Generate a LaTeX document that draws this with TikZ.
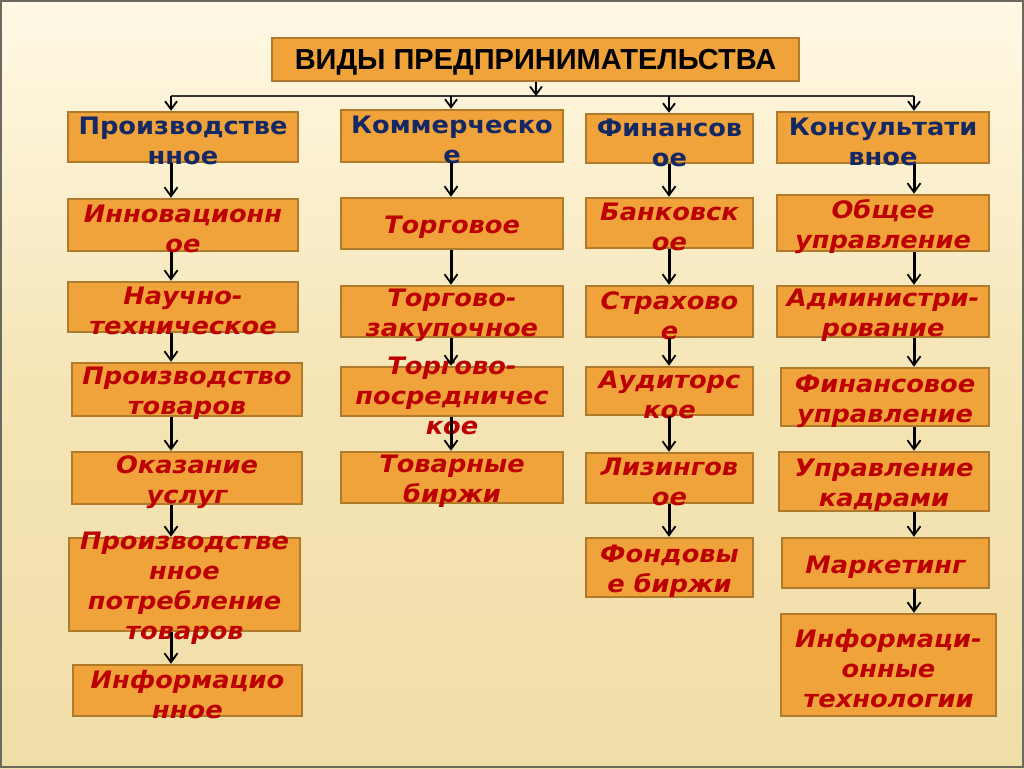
\documentclass[tikz,border=0pt]{standalone}
\usepackage{fontspec}
\setmainfont{DejaVu Sans}
\newfontfamily\boxfont[FakeStretch=1.07]{DejaVu Sans}
\newfontfamily\titlefont{Liberation Sans}
\usetikzlibrary{arrows.meta}
\definecolor{bgtop}{HTML}{FFF8E4}
\definecolor{bgmid}{HTML}{F5E5B6}
\definecolor{bgbot}{HTML}{F0DEA8}
\definecolor{boxfill}{HTML}{F0A33A}
\definecolor{boxedge}{HTML}{B07A2C}
\definecolor{navy}{HTML}{142864}
\definecolor{itemred}{HTML}{BC0000}
\definecolor{frame}{HTML}{6A6A60}
% #1 kind (cat/item), #2 name, #3 centre, #4 width, #5 height, #6 text
\newcommand\mkbox[6]{%
  \node[#1box, minimum width=#4, minimum height=#5] (#2) at (#3) {};
  \node[#1txt] (#2t) at (#2.center) {#6};}
\begin{document}
\begin{tikzpicture}[x=1pt,y=-1pt,
  box/.style={draw=boxedge, line width=2.5pt, fill=boxfill, inner sep=0pt},
  catbox/.style={box},
  itembox/.style={box},
  txt/.style={inner sep=0pt, align=center, yshift=-4pt},
  cattxt/.style={txt, font=\boxfont\bfseries\fontsize{24}{30}\selectfont, text=navy},
  itemtxt/.style={txt, font=\boxfont\bfseries\itshape\fontsize{24}{30}\selectfont, text=itemred},
  titlebox/.style={box, text depth=0pt, font=\titlefont\bfseries\fontsize{29}{34}\selectfont, text=black},
  arr/.style={line width=3pt, -{Straight Barb[length=9pt,width=13pt,line width=1.8pt]}},
  arrthin/.style={line width=2pt, -{Straight Barb[length=8pt,width=12pt,line width=1.8pt]}},
  hline/.style={line width=2pt, draw=black!80}]
\useasboundingbox (0,0) rectangle (1024,768);
\shade[top color=bgtop, bottom color=bgbot, middle color=bgmid] (0,0) rectangle (1024,768);
\draw[frame, line width=2pt] (1,1) rectangle (1023,767);

% title
\node[titlebox, minimum width=527pt, minimum height=43pt] (title) at (535.5,59.5) {ВИДЫ ПРЕДПРИНИМАТЕЛЬСТВА};

% column x positions
\coordinate (x1) at (171,96);
\coordinate (x2) at (451,96);
\coordinate (x3) at (669,96);
\coordinate (x4) at (914,96);
\coordinate (xt) at (536,96);

% column 1
\mkbox{cat}{p0}{183,137}{230pt}{50pt}{Производстве\\нное}
\mkbox{item}{p1}{183,225}{230pt}{52pt}{Инновационн\\ое}
\mkbox{item}{p2}{183,307}{230pt}{50pt}{Научно-\\техническое}
\mkbox{item}{p3}{187,389.5}{230pt}{53pt}{Производство\\товаров}
\mkbox{item}{p4}{187,478}{230pt}{52pt}{Оказание\\услуг}
\mkbox{item}{p5}{184.5,584.5}{231pt}{93pt}{Производстве\\нное\\потребление\\товаров}
\mkbox{item}{p6}{187.5,690.5}{229pt}{51pt}{Информацио\\нное}

% column 2
\mkbox{cat}{k0}{452,136}{222pt}{52pt}{Коммерческо\\е}
\mkbox{item}{k1}{452,223.5}{222pt}{51pt}{Торговое}
\mkbox{item}{k2}{452,311.5}{222pt}{51pt}{Торгово-\\закупочное}
\mkbox{item}{k3}{452,391.5}{222pt}{49pt}{Торгово-\\посредничес\\кое}
\mkbox{item}{k4}{452,477.5}{222pt}{51pt}{Товарные\\биржи}

% column 3
\mkbox{cat}{f0}{669.5,138.5}{167pt}{49pt}{Финансов\\ое}
\mkbox{item}{f1}{669.5,223}{167pt}{50pt}{Банковск\\ое}
\mkbox{item}{f2}{669.5,311.5}{167pt}{51pt}{Страхово\\е}
\mkbox{item}{f3}{669.5,391}{167pt}{48pt}{Аудиторс\\кое}
\mkbox{item}{f4}{669.5,478}{167pt}{50pt}{Лизингов\\ое}
\mkbox{item}{f5}{669.5,567.5}{167pt}{59pt}{Фондовы\\е биржи}

% column 4
\mkbox{cat}{c0}{883,137.5}{212pt}{51pt}{Консультати\\вное}
\mkbox{item}{c1}{883,223}{212pt}{56pt}{Общее\\управление}
\mkbox{item}{c2}{883,311.5}{212pt}{51pt}{Администри-\\рование}
\mkbox{item}{c3}{885,397}{208pt}{58pt}{Финансовое\\управление}
\mkbox{item}{c4}{884,481.5}{210pt}{59pt}{Управление\\кадрами}
\mkbox{item}{c5}{885.5,563}{207pt}{50pt}{Маркетинг}
\mkbox{item}{c6}{888.5,665}{215pt}{102pt}{Информаци-\\онные\\технологии}

% top connectors
\draw[hline] (x1) -- (x4);
\draw[arrthin] (title.south -| xt) -- (xt);
\draw[arrthin] (x1) -- (p0.north -| x1);
\draw[arrthin] (x2) -- (k0.north -| x2);
\draw[arrthin] (x3) -- (f0.north -| x3);
\draw[arrthin] (x4) -- (c0.north -| x4);

% column arrows
\draw[arr] (p0.south -| x1) -- (p1.north -| x1);
\draw[arr] (p1.south -| x1) -- (p2.north -| x1);
\draw[arr] (p2.south -| x1) -- (p3.north -| x1);
\draw[arr] (p3.south -| x1) -- (p4.north -| x1);
\draw[arr] (p4.south -| x1) -- (p5.north -| x1);
\draw[arr] (p5.south -| x1) -- (p6.north -| x1);

\draw[arr] (k0.south -| x2) -- (k1.north -| x2);
\draw[arr] (k1.south -| x2) -- (k2.north -| x2);
\draw[arr] (k2.south -| x2) -- (k3.north -| x2);
\draw[arr] (k3.south -| x2) -- (k4.north -| x2);

\draw[arr] (f0.south -| x3) -- (f1.north -| x3);
\draw[arr] (f1.south -| x3) -- (f2.north -| x3);
\draw[arr] (f2.south -| x3) -- (f3.north -| x3);
\draw[arr] (f3.south -| x3) -- (f4.north -| x3);
\draw[arr] (f4.south -| x3) -- (f5.north -| x3);

\draw[arr] (c0.south -| x4) -- (c1.north -| x4);
\draw[arr] (c1.south -| x4) -- (c2.north -| x4);
\draw[arr] (c2.south -| x4) -- (c3.north -| x4);
\draw[arr] (c3.south -| x4) -- (c4.north -| x4);
\draw[arr] (c4.south -| x4) -- (c5.north -| x4);
\draw[arr] (c5.south -| x4) -- (c6.north -| x4);
\end{tikzpicture}
\end{document}
